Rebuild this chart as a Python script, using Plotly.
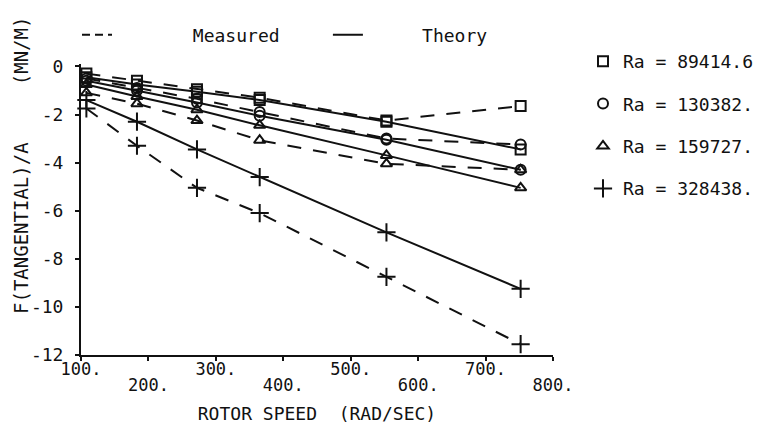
import plotly.graph_objects as go

# ---- data ----
rotor_speed = [108, 183, 272, 365, 553, 752]

meas_89414 = [-0.30, -0.60, -0.95, -1.30, -2.25, -1.65]
theo_89414 = [-0.45, -0.75, -1.05, -1.40, -2.30, -3.45]

meas_130382 = [-0.50, -0.90, -1.35, -1.90, -3.00, -3.25]
theo_130382 = [-0.60, -1.00, -1.50, -2.05, -3.05, -4.30]

meas_159727 = [-1.10, -1.55, -2.25, -3.07, -4.05, -4.30]
theo_159727 = [-0.75, -1.25, -1.80, -2.45, -3.70, -5.05]

meas_328438 = [-1.75, -3.30, -5.05, -6.10, -8.75, -11.55]
theo_328438 = [-1.40, -2.30, -3.45, -4.60, -6.90, -9.25]

series_labels = ["Ra = 89414.6", "Ra = 130382.", "Ra = 159727.", "Ra = 328438."]
series_symbols = ["square-open", "circle-open", "triangle-up-open", "cross-thin-open"]

x_tickvals = [100, 200, 300, 400, 500, 600, 700, 800]
x_ticktext_upper = ["100.", "", "300.", "", "500.", "", "700.", ""]
x_tickvals_lower = [200, 400, 600, 800]
x_ticktext_lower = ["200.", "400.", "600.", "800."]
y_tickvals = [0, -2, -4, -6, -8, -10, -12]
y_ticktext = ["0", "-2", "-4", "-6", "-8", "-10", "-12"]

INK = "#111111"
FONT = "DejaVu Sans Mono"
DASH = "14px,12px"
NB = "\u00a0"

W, H = 769, 423
ML, MR, MT, MB = 73, 224, 56, 76
PW, PH = W - ML - MR, H - MT - MB


def px_x(px):
    return (px - ML) / PW


def px_y(py):
    return (H - MB - py) / PH


measured = [meas_89414, meas_130382, meas_159727, meas_328438]
theory = [theo_89414, theo_130382, theo_159727, theo_328438]

fig = go.Figure()

for sym, m, t in zip(series_symbols, measured, theory):
    msize = 13 if sym == "cross-thin-open" else 10
    fig.add_trace(go.Scatter(
        x=rotor_speed, y=t, mode="lines+markers", showlegend=False,
        line=dict(color=INK, width=2),
        marker=dict(symbol=sym, size=msize, color=INK, line=dict(color=INK, width=2)),
        cliponaxis=False,
    ))
    fig.add_trace(go.Scatter(
        x=rotor_speed, y=m, mode="lines+markers", showlegend=False,
        line=dict(color=INK, width=2, dash=DASH),
        marker=dict(symbol=sym, size=msize, color=INK, line=dict(color=INK, width=2)),
        cliponaxis=False,
    ))

# top legend: line styles
fig.add_trace(go.Scatter(
    x=[None], y=[None], xaxis="x2", mode="lines",
    name=NB * 7 + "Measured" + NB * 4,
    line=dict(color=INK, width=2, dash="8px,5px"), legend="legend2",
))
fig.add_trace(go.Scatter(
    x=[None], y=[None], xaxis="x2", mode="lines",
    name=NB * 5 + "Theory",
    line=dict(color=INK, width=2), legend="legend2",
))

# right legend: symbols
for i, (sym, lab) in enumerate(zip(series_symbols, series_labels)):
    msize = 13 if sym == "cross-thin-open" else 10
    fig.add_trace(go.Scatter(
        x=[None], y=[None], xaxis="x2", mode="markers", name=lab, legendgroup=f"g{i}",
        marker=dict(symbol=sym, size=msize, color=INK, line=dict(color=INK, width=2)),
        legend="legend",
    ))

fig.update_layout(
    width=W, height=H,
    margin=dict(l=ML, r=MR, t=MT, b=MB, autoexpand=False),
    paper_bgcolor="white", plot_bgcolor="white",
    font=dict(family=FONT, size=17, color=INK),
    legend=dict(
        x=px_x(575), xref="paper", xanchor="left",
        y=px_y(35), yref="paper", yanchor="top",
        traceorder="grouped", tracegroupgap=16,
        font=dict(family=FONT, size=18, color=INK),
        bgcolor="rgba(0,0,0,0)", itemwidth=30,
    ),
    legend2=dict(
        orientation="h",
        x=px_x(69), xref="paper", xanchor="left",
        y=px_y(27), yref="paper", yanchor="middle",
        font=dict(family=FONT, size=18, color=INK),
        bgcolor="rgba(0,0,0,0)",
    ),
    xaxis=dict(
        range=[100, 800], tickvals=x_tickvals, ticktext=x_ticktext_upper,
        showgrid=False, zeroline=False, showline=True, linecolor=INK, linewidth=2,
        ticks="outside", ticklen=4, tickwidth=2, tickcolor=INK,
        ticklabelstandoff=-6,
        tickfont=dict(family=FONT, size=17, color=INK),
        automargin=False,
        title=dict(text="ROTOR SPEED" + NB * 2 + "(RAD/SEC)", standoff=29,
                   font=dict(family=FONT, size=18, color=INK)),
    ),
    xaxis2=dict(
        range=[100, 800], overlaying="x", side="bottom", anchor="y",
        tickvals=x_tickvals_lower, ticktext=x_ticktext_lower,
        showgrid=False, zeroline=False, showline=False, ticks="",
        ticklabelstandoff=18, automargin=False,
        tickfont=dict(family=FONT, size=17, color=INK),
    ),
    yaxis=dict(
        range=[-12, 0.1], tickvals=y_tickvals, ticktext=y_ticktext,
        showgrid=False, zeroline=False, showline=True, linecolor=INK, linewidth=2,
        ticks="outside", ticklen=4, tickwidth=2, tickcolor=INK,
        ticklabelstandoff=8, automargin=False,
        tickfont=dict(family=FONT, size=18, color=INK),
    ),
    annotations=[dict(
        text="F(TANGENTIAL)/A" + NB * 5 + "(MN/M)",
        textangle=-90, showarrow=False,
        xref="paper", x=px_x(13), xanchor="center",
        yref="paper", y=px_y(158), yanchor="middle",
        font=dict(family=FONT, size=19, color=INK),
    )],
)

fig.write_html("out.html")
